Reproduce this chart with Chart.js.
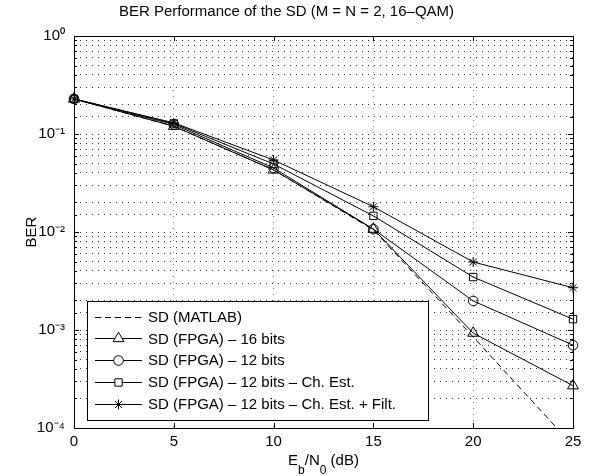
<!DOCTYPE html>
<html><head><meta charset="utf-8">
<script src="https://cdn.jsdelivr.net/npm/chart.js@4/dist/chart.umd.min.js"></script>
<style>html,body{margin:0;padding:0;background:#fff;} canvas{display:block;}</style>
</head><body>
<canvas id="c" width="592" height="476"></canvas>
<script>
// ---- data ----
const ebn0 = [0, 5, 10, 15, 20, 25];
const berMatlab    = [0.228, 0.120, 0.043, 0.0105, 0.00085, 0.000066];
const berFpga16    = [0.228, 0.120, 0.043, 0.0107, 0.00093, 0.00027];
const berFpga12    = [0.228, 0.125, 0.045, 0.0107, 0.00198, 0.00070];
const berFpga12Ch  = [0.228, 0.128, 0.0494, 0.0146, 0.00347, 0.00129];
const berFpga12ChF = [0.228, 0.130, 0.0543, 0.0181, 0.00494, 0.0027];
const seriesLabels = [
  'SD (MATLAB)',
  'SD (FPGA) \u2013 16 bits',
  'SD (FPGA) \u2013 12 bits',
  'SD (FPGA) \u2013 12 bits \u2013 Ch. Est.',
  'SD (FPGA) \u2013 12 bits \u2013 Ch. Est. + Filt.'
];
const xTickValues = [0, 5, 10, 15, 20, 25];
const yDecades = [1e-4, 1e-3, 1e-2, 1e-1, 1];
const yTickLabels = ['10\u207B\u2074', '10\u207B\u00B3', '10\u207B\u00B2', '10\u207B\u00B9', '10\u2070'];
const chartTitle = 'BER Performance of the SD (M = N = 2, 16\u2013QAM)';
const yTitle = 'BER';

const FONT = '"Liberation Sans", Arial, Helvetica, sans-serif';
Chart.defaults.font.family = FONT;
Chart.defaults.color = '#000';

function pts(arr) { return ebn0.map((x, i) => ({ x: x, y: arr[i] })); }

const styles = [
  { pointStyle: false, dash: [6, 4], radius: 0, clip: 0 },
  { pointStyle: 'triangle', dash: [], radius: 6.3, clip: 10 },
  { pointStyle: 'circle', dash: [], radius: 4.8, clip: 10 },
  { pointStyle: 'rect', dash: [], radius: 5.2, clip: 10 },
  { pointStyle: 'star', dash: [], radius: 5, clip: 10 }
];
const seriesData = [berMatlab, berFpga16, berFpga12, berFpga12Ch, berFpga12ChF];

const datasets = seriesData.map((arr, i) => ({
  label: seriesLabels[i],
  data: pts(arr),
  borderColor: '#000',
  backgroundColor: 'rgba(0,0,0,0)',
  borderWidth: 1,
  borderDash: styles[i].dash,
  pointStyle: styles[i].pointStyle,
  pointRadius: styles[i].radius,
  pointBorderColor: '#000',
  pointBackgroundColor: 'rgba(0,0,0,0)',
  pointBorderWidth: 1,
  clip: styles[i].clip,
  tension: 0,
  fill: false
}));

const matlabFrame = {
  id: 'matlabFrame',
  afterDraw(chart) {
    const ctx = chart.ctx;
    const a = chart.chartArea;
    const xs = chart.scales.x, ys = chart.scales.y;
    ctx.save();
    ctx.strokeStyle = '#000';
    ctx.lineWidth = 1;
    ctx.setLineDash([]);
    // inside ticks
    ctx.beginPath();
    xs.ticks.forEach(t => {
      const px = Math.round(xs.getPixelForValue(t.value)) + 0.5;
      ctx.moveTo(px, a.bottom); ctx.lineTo(px, a.bottom - 5);
      ctx.moveTo(px, a.top); ctx.lineTo(px, a.top + 5);
    });
    ys.ticks.forEach(t => {
      const lg = Math.log10(t.value);
      const major = Math.abs(lg - Math.round(lg)) < 1e-6;
      const len = major ? 5 : 3;
      const py = Math.round(ys.getPixelForValue(t.value)) + 0.5;
      ctx.moveTo(a.left, py); ctx.lineTo(a.left + len, py);
      ctx.moveTo(a.right, py); ctx.lineTo(a.right - len, py);
    });
    ctx.stroke();
    // box
    ctx.strokeRect(Math.round(a.left) + 0.5, Math.round(a.top) + 0.5,
                   Math.round(a.right - a.left), Math.round(a.bottom - a.top));

    // legend
    const lx = 87.5, ly = 301.5, lw = 341, lh = 119;
    ctx.fillStyle = '#fff';
    ctx.fillRect(lx, ly, lw, lh);
    ctx.strokeRect(lx, ly, lw, lh);
    ctx.textBaseline = 'middle';
    ctx.textAlign = 'left';
    chart.data.datasets.forEach((ds, i) => {
      const y = 316.7 + i * 21.7;
      ctx.save();
      ctx.strokeStyle = '#000';
      ctx.lineWidth = 1;
      ctx.setLineDash(ds.borderDash || []);
      ctx.beginPath();
      ctx.moveTo(95, Math.round(y) + 0.5);
      ctx.lineTo(142, Math.round(y) + 0.5);
      ctx.stroke();
      ctx.setLineDash([]);
      if (ds.pointStyle) {
        ctx.fillStyle = '#fff';
        Chart.helpers.drawPoint(ctx, {
          pointStyle: ds.pointStyle, radius: ds.pointRadius, borderWidth: 1, rotation: 0
        }, 118.5, Math.round(y) + 0.5);
      }
      ctx.restore();
      ctx.font = '15px ' + FONT;
      ctx.textBaseline = 'middle';
      ctx.fillStyle = '#000';
      ctx.fillText(ds.label, 148, y + 1);
    });

    // x-axis title with subscripts
    const parts = [
      { t: 'E', sub: false }, { t: 'b', sub: true }, { t: '/N', sub: false },
      { t: '0', sub: true }, { t: ' (dB)', sub: false }
    ];
    const mainF = '15px ' + FONT, subF = '12px ' + FONT;
    let total = 0;
    parts.forEach(p => { ctx.font = p.sub ? subF : mainF; p.w = ctx.measureText(p.t).width; total += p.w; });
    let cx = (a.left + a.right) / 2 - total / 2;
    const base = 465;
    ctx.textBaseline = 'alphabetic';
    ctx.fillStyle = '#000';
    parts.forEach(p => {
      ctx.font = p.sub ? subF : mainF;
      ctx.fillText(p.t, cx, p.sub ? base + 9 : base);
      cx += p.w;
    });
    ctx.restore();
  }
};

new Chart(document.getElementById('c'), {
  type: 'line',
  data: { datasets: datasets },
  options: {
    responsive: false,
    devicePixelRatio: 1,
    animation: false,
    layout: { padding: { left: 0, right: 19, top: 0, bottom: 0 } },
    plugins: {
      legend: { display: false },
      tooltip: { enabled: false },
      title: {
        display: true, text: chartTitle, color: '#000',
        font: { size: 15, weight: 'normal', family: FONT },
        padding: { top: 3, bottom: 15 }
      }
    },
    scales: {
      x: {
        type: 'linear', min: 0, max: 25,
        afterBuildTicks: s => { s.ticks = xTickValues.map(v => ({ value: v })); },
        ticks: { color: '#000', font: { size: 15 }, padding: 5, maxRotation: 0 },
        grid: { color: '#888', lineWidth: 1, drawTicks: false },
        border: { display: false, dash: [1, 5] },
        afterFit: s => { s.height = 48; }
      },
      y: {
        type: 'logarithmic', min: 1e-4, max: 1,
        ticks: {
          color: '#000', font: { size: 15 }, padding: 9, autoSkip: false,
          callback: (v) => {
            const i = yDecades.findIndex(d => Math.abs(Math.log10(v) - Math.log10(d)) < 1e-6);
            return i >= 0 ? yTickLabels[i] : '';
          }
        },
        grid: { color: '#333', lineWidth: 1, drawTicks: false },
        border: { display: false, dash: [1, 5] },
        title: { display: true, text: yTitle, color: '#000', font: { size: 15 }, padding: { top: 23, bottom: 0 } },
        afterFit: s => { s.width = 74; }
      }
    }
  },
  plugins: [matlabFrame]
});
</script>
</body></html>
